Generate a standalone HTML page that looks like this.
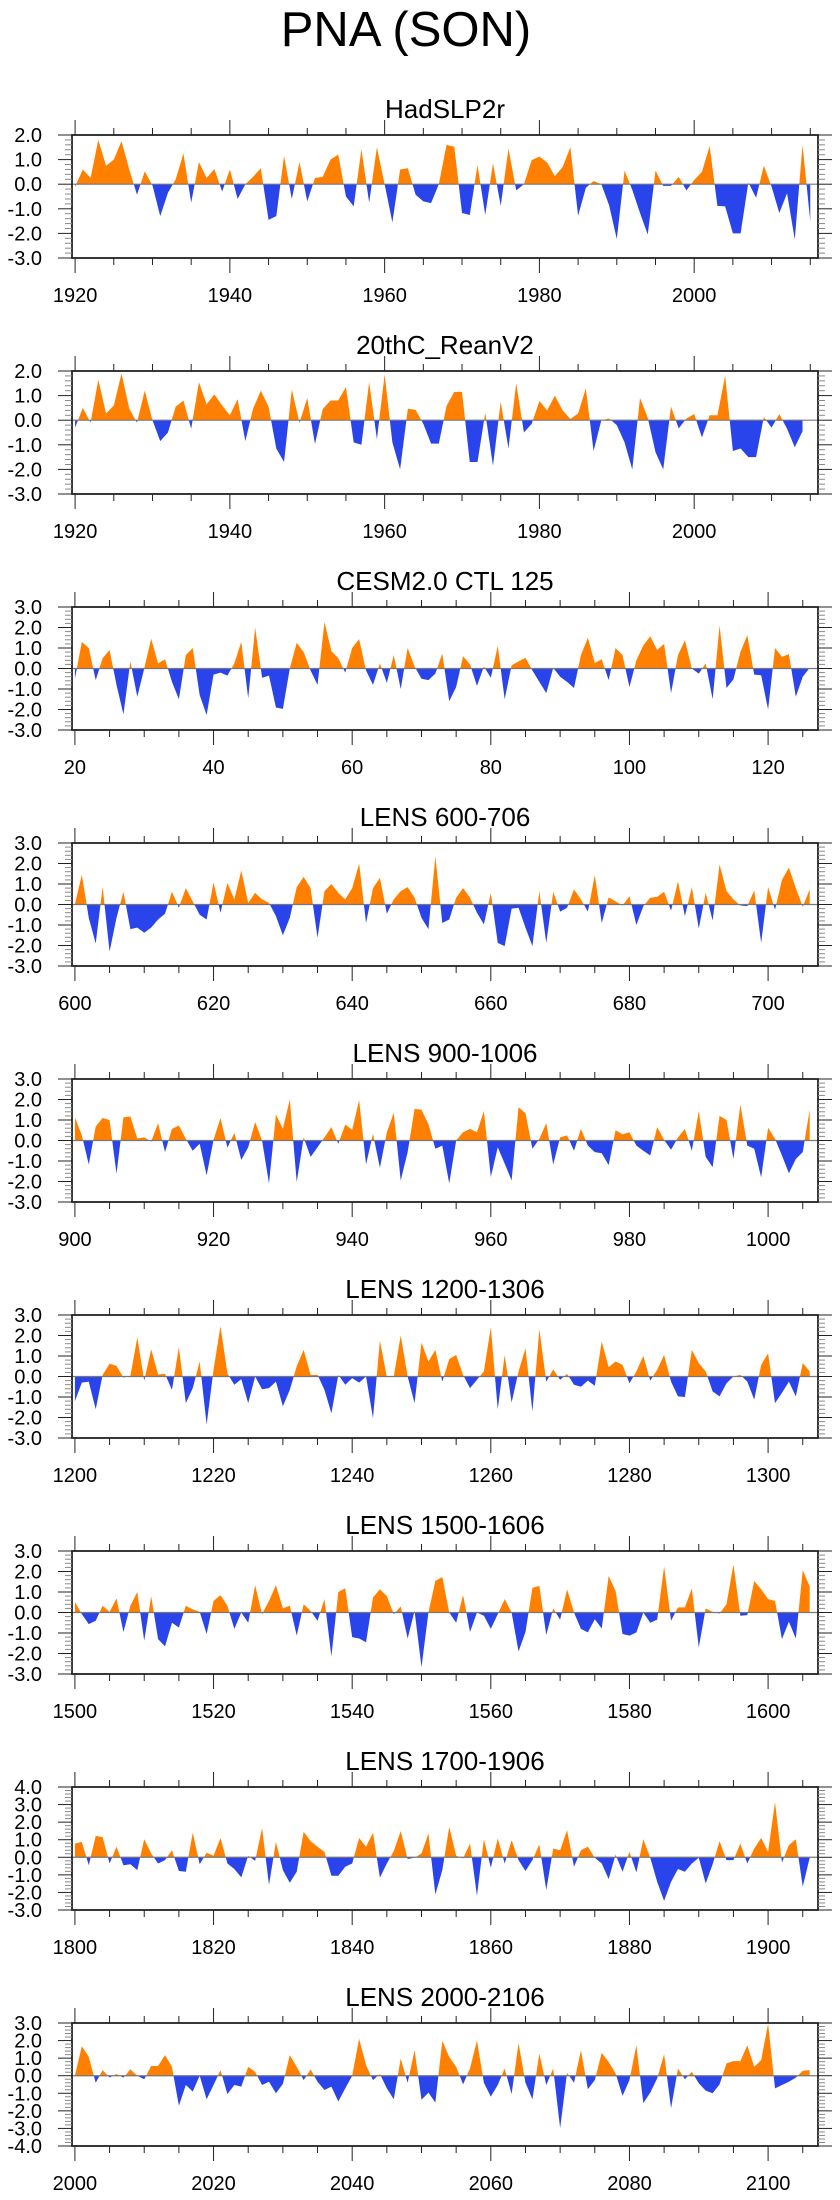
<!DOCTYPE html>
<html><head><meta charset="utf-8"><title>PNA (SON)</title>
<style>
html,body{margin:0;padding:0;background:#fff;}
svg{display:block;font-family:"Liberation Sans",Arial,sans-serif;}
</style></head>
<body>
<svg id="chart" width="840" height="2200" viewBox="0 0 840 2200" xmlns="http://www.w3.org/2000/svg">
<text x="406" y="46" font-size="49" text-anchor="middle" fill="#000">PNA (SON)</text>
</svg>
<script>
// ---- data arrays ----
const panelTitles = ["HadSLP2r","20thC_ReanV2","CESM2.0 CTL 125","LENS 600-706","LENS 900-1006","LENS 1200-1306","LENS 1500-1606","LENS 1700-1906","LENS 2000-2106"];
const startYears = [1920,1920,20,600,900,1200,1500,1800,2000];
const xTickLabels = [
 [1920,1940,1960,1980,2000],[1920,1940,1960,1980,2000],[20,40,60,80,100,120],
 [600,620,640,660,680,700],[900,920,940,960,980,1000],[1200,1220,1240,1260,1280,1300],
 [1500,1520,1540,1560,1580,1600],[1800,1820,1840,1860,1880,1900],[2000,2020,2040,2060,2080,2100]];
const yMins = [-3,-3,-3,-3,-3,-3,-3,-3,-4];
const yMaxs = [2,2,3,3,3,3,3,4,3];
const xMins = [1919.6,1919.6,19.58,599.58,899.58,1199.58,1499.58,1799.58,1999.58];
const xMaxs = [2016.0,2016.0,127.2,707.2,1007.2,1307.2,1607.2,1907.2,2107.2];

const hadValues = [-0.1,0.6,0.25,1.8,0.75,1.0,1.75,0.6,-0.43,0.52,-0.05,-1.3,-0.35,0.2,1.25,-0.75,0.9,0.25,0.62,-0.3,0.6,-0.6,0,0.3,0.65,-1.45,-1.3,1.15,-0.6,0.9,-0.7,0.25,0.3,1.0,1.2,-0.5,-0.9,1.42,-0.75,1.5,0,-1.55,0.6,0.65,-0.43,-0.7,-0.77,0,1.6,1.52,-1.17,-1.25,0.78,-1.25,0.85,-0.88,1.45,-0.25,0,0.98,1.12,0.88,0.33,0.7,1.5,-1.28,-0.15,0.13,0,-0.85,-2.23,0.55,-0.23,-1.17,-2.05,0.55,-0.07,-0.07,0.3,-0.25,0.17,0.5,1.55,-0.88,-0.9,-2.0,-2.0,0.07,-0.55,0.75,-0.1,-1.17,-0.37,-2.25,1.6,-1.5];
const reanValues = [-0.3,0.5,-0.1,1.65,0.27,0.6,1.9,0.47,-0.1,1.2,0,-0.85,-0.5,0.55,0.8,-0.35,1.55,0.65,1.05,0.6,0.2,0.85,-0.85,0.47,1.2,0.55,-1.15,-1.7,1.25,-0.1,0.9,-0.97,0.45,0.8,0.8,1.35,-0.9,-1.0,1.55,-0.77,1.85,-0.9,-2.0,0.47,0.42,-0.15,-0.95,-0.95,0.58,1.15,1.15,-1.7,-1.7,0.3,-1.85,0.75,-1.15,1.5,-0.5,-0.15,0.78,0.4,1.0,0.4,0.05,0.27,1.3,-1.25,0,0.07,-0.2,-0.9,-2.0,0.9,0.1,-1.3,-2.0,0.55,-0.33,0.07,0.25,-0.7,0.2,0.2,1.8,-1.25,-1.15,-1.5,-1.5,0.13,-0.3,0.25,-0.35,-1.1,-0.45];
const cesmValues = [-0.5,1.3,1.0,-0.57,0.5,0.9,-0.8,-2.24,0.35,-1.38,0,1.45,0.25,0.45,-0.65,-1.5,0.65,1.0,-1.3,-2.27,-0.3,-0.2,-0.35,0.25,1.3,-1.45,2.0,-0.45,-0.35,-1.9,-1.97,0,1.25,0.8,-0.1,-0.8,2.27,0.85,0.5,-0.2,1.0,1.43,-0.1,-0.8,0.25,-0.7,0.65,-1.0,1.0,0.1,-0.5,-0.57,-0.25,0.73,-1.6,-0.9,0.6,0.2,-0.85,0.1,-0.45,1.1,-1.5,0.15,0.35,0.52,-0.1,-0.65,-1.2,0.03,-0.4,-0.65,-0.95,0.65,1.5,0.27,0.45,-0.57,1.0,0.65,-0.9,0.4,1.13,1.57,0.9,1.2,-1.2,0.65,1.38,0,-0.25,0.25,-1.5,2.1,-0.95,-0.53,0.8,1.62,-0.3,-0.33,-2.0,1.0,0.57,0.7,-1.38,-0.4,0.03];
const lens600Values = [0,1.45,-0.65,-1.9,0.85,-2.3,-0.65,0.62,-1.2,-1.13,-1.38,-1.13,-0.73,-0.45,0.62,-0.15,0.8,0.15,-0.5,-0.73,1.08,-0.4,1.05,0.25,1.65,0.08,0.57,0.25,0.08,-0.57,-1.5,-0.65,0.85,1.35,0.8,-1.62,0.65,1.0,0.57,0.25,0.8,2.0,-0.9,0.8,1.3,-0.45,0.25,0.65,0.85,0.33,-0.65,-1.2,2.35,-0.9,-0.73,0.33,0.8,0.33,-0.4,-0.97,0.57,-1.87,-2.03,-0.2,-0.16,-1.13,-2.03,0.65,-1.87,0.62,-0.35,-0.16,0.73,0.25,-0.35,1.43,-0.9,0.35,0.15,-0.05,0.4,-1.0,-0.08,0.33,0.37,0.62,-0.3,1.13,-0.57,0.85,-1.17,0.57,-0.78,1.95,0.65,0.25,-0.05,-0.08,0.68,-1.87,0.85,-0.25,1.2,1.8,0.8,-0.1,0.73];
const lens900Values = [1.13,0.25,-1.17,0.68,1.1,1.0,-1.62,1.13,1.17,0.1,0.15,-0.05,0.85,-0.57,0.57,0.73,0.08,-0.5,-0.16,-1.7,0.03,1.1,-0.35,0.37,-0.95,-0.33,0.9,0,-2.1,1.27,0.57,2.0,-2.03,0.15,-0.8,-0.33,0.15,0.65,-0.16,0.78,0.52,1.97,-1.17,0.33,-1.33,0.4,1.35,-1.95,-0.57,1.54,1.5,0.8,-0.4,-0.25,-2.1,0,0.4,0.57,0.4,1.43,-1.78,-0.33,-1.13,-1.95,1.62,1.33,-0.4,0.08,0.85,-1.17,0.15,0.25,-0.5,0.57,-0.25,-0.57,-0.62,-1.2,0.5,0.3,0.4,-0.25,-0.5,-0.73,0.65,0.03,-0.45,0.15,0.57,-0.5,1.43,-0.8,-1.3,1.2,1.0,-0.9,1.75,-0.25,-0.4,-1.8,0.62,0.08,-0.73,-1.6,-0.9,-0.57,1.5];
const lens1200Values = [-1.2,-0.3,-0.25,-1.6,0.08,0.62,0.52,-0.05,0.03,1.9,-0.2,1.33,0.1,0.13,-0.65,1.43,-1.3,-0.57,0.73,-2.35,0.33,2.46,0.15,-0.4,-0.13,-1.3,0,-0.62,-0.57,-0.25,-1.45,-0.65,0.5,1.3,0.08,0.08,-0.65,-1.8,0.08,-0.4,-0.08,-0.3,0,-2.03,1.75,-0.03,0,2.0,0,-1.3,1.65,0.73,1.3,-0.25,0.85,1.05,0.08,-0.57,-0.16,0.25,2.4,-1.6,1.05,-1.27,0.25,1.38,-1.7,2.3,-0.25,0.35,-0.16,0.13,-0.4,-0.5,-0.2,-0.45,1.7,0.45,0.73,0.57,-0.33,0.25,1.0,-0.2,0.33,1.05,-0.25,-0.97,-1.0,1.3,0.65,0.25,-0.73,-0.97,-0.33,0,0.08,-0.25,-1.13,0.57,1.13,-1.3,-0.8,-0.25,-0.97,0.65,0.25];
const lens1500Values = [0.52,-0.08,-0.57,-0.4,0.33,0.03,0.68,-0.95,0.33,1.0,-1.38,0.8,-1.3,-1.65,-0.5,-0.73,0.33,0.15,0.03,-1.05,0.57,0.85,0.33,-0.8,0,-0.5,1.33,-0.08,0.57,1.33,0.2,0.33,-1.13,0.4,0.08,-0.4,0.65,-2.14,1.0,1.18,-1.2,-1.27,-1.45,0.73,1.13,0.8,-0.08,0.3,-1.27,0.08,-2.67,0,1.54,1.73,0,-0.5,0.85,-0.95,0,-0.16,-0.8,-0.08,0.65,0,-1.9,-0.95,1.2,1.3,-1.1,0.2,-0.35,1.13,0,-0.8,-0.97,-0.33,-0.78,1.78,1.05,-1.05,-1.13,-0.97,0,-0.5,-0.35,2.24,-0.4,0.25,0.25,1.17,-1.7,0.2,0.03,-0.05,0.4,2.35,-0.16,-0.13,1.54,1.13,0.65,0.57,-1.3,-0.45,-1.27,2.07,1.27];
const lens1800Values = [0.78,0.88,-0.45,1.22,1.15,-0.35,0.6,-0.45,-0.4,-0.73,1.03,0.22,-0.35,-0.16,0.4,-0.78,-0.82,1.4,-0.4,0.26,0.09,1.1,-0.35,-0.67,-1.14,0.09,-0.2,1.67,-1.58,0.88,-0.73,-1.45,-0.82,1.45,0.92,0.6,0.31,-1.05,-1.05,-0.54,-0.35,1.1,0.6,1.4,-1.16,-0.35,0.35,1.49,-0.1,-0.03,0.22,1.35,-2.12,-0.73,1.73,0.09,-0.06,0.78,-2.19,1.03,-0.59,1.07,-0.35,0.97,-0.16,-0.78,-0.16,0.73,-1.86,0.5,0.4,1.54,-0.54,0.4,0.6,-0.03,-0.35,-1.24,0.16,-0.82,0.31,-0.86,1.03,-0.03,-1.4,-2.48,-1.4,-0.67,-0.82,-0.35,-0.03,-1.49,-0.4,0.92,-0.16,-0.16,0.78,-0.35,0.5,1.1,0.31,3.15,-0.3,0.69,1.03,-1.67,-0.03];
const lens2000Values = [0,1.68,1.07,-0.4,0.32,-0.1,0.1,-0.11,0.36,0,-0.2,0.55,0.55,1.17,0.5,-1.71,-0.53,-0.9,0,-1.34,-0.53,0.32,-1.05,-0.53,-0.62,0.5,0.22,-0.53,-0.34,-1.0,-0.47,1.17,0.5,-0.25,0.36,-0.34,-0.81,-0.62,-1.47,-0.72,0,2.1,0.6,-0.25,0.1,-0.72,-1.34,0.98,-0.4,1.45,-1.37,-0.96,-1.53,1.98,1.07,0.5,-0.49,0.41,2.0,-0.4,-1.19,-0.53,0.41,-1.05,1.86,-0.4,-1.34,1.26,-0.53,0.41,-2.98,0.17,-0.4,1.45,-0.77,-0.25,1.3,0.79,0.13,-1.15,-0.25,1.73,-1.56,-0.96,-0.15,1.22,-1.85,0.41,-0.2,0.22,-0.43,-0.85,-1.0,-0.49,0.7,0.83,0.83,1.73,0.5,0.89,2.96,-0.72,-0.53,-0.34,-0.11,0.28,0.32];
const seriesValues = [hadValues,reanValues,cesmValues,lens600Values,lens900Values,lens1200Values,lens1500Values,lens1800Values,lens2000Values];

// ---- drawing ----
const NS = "http://www.w3.org/2000/svg";
const svg = document.getElementById("chart");
const L = 72, R = 818, H = 123;
function mk(tag, attrs, parent){
  const e = document.createElementNS(NS, tag);
  for (const k in attrs) e.setAttribute(k, attrs[k]);
  (parent||svg).appendChild(e);
  return e;
}
const defs = mk("defs", {});
for (let k = 0; k < seriesValues.length; k++){
  const top = 135 + 236*k, bot = top + H;
  const xmin = xMins[k], xmax = xMaxs[k], ymin = yMins[k], ymax = yMaxs[k];
  const sx = v => L + (v - xmin)/(xmax - xmin)*(R - L);
  const sy = v => top + (ymax - v)/(ymax - ymin)*H;
  const g = mk("g", {});
  
  

  const title = mk("text", {x:(L+R)/2, y:top-17, "font-size":26, "text-anchor":"middle", fill:"#000"}, g);
  
  
  title.textContent = panelTitles[k];

  const vals = seriesValues[k], s0 = startYears[k];
  let d = "M" + sx(s0).toFixed(2) + "," + sy(0).toFixed(2);
  vals.forEach((v,i) => { d += " L" + sx(s0+i).toFixed(2) + "," + sy(v).toFixed(2); });
  d += " L" + sx(s0+vals.length-1).toFixed(2) + "," + sy(0).toFixed(2) + " Z";
  const cpA = mk("clipPath", {id:"ca"+k}, defs);
  mk("rect", {x:L, y:top, width:R-L, height:sy(0)-top}, cpA);
  const cpB = mk("clipPath", {id:"cb"+k}, defs);
  mk("rect", {x:L, y:sy(0), width:R-L, height:bot-sy(0)}, cpB);
  const pos = mk("path", {d:d, fill:"#ff8000", "clip-path":"url(#ca"+k+")"}, g);
  
  
  const neg = mk("path", {d:d, fill:"#2a44eb", "clip-path":"url(#cb"+k+")"}, g);
  
  

  const zl = mk("line", {x1:L, x2:R, y1:sy(0), y2:sy(0), stroke:"#777", "stroke-width":1.2}, g);
  
  

  const box = mk("rect", {x:L, y:top, width:R-L, height:H, fill:"none", stroke:"#222", "stroke-width":1.8}, g);
  
  

  const nMinor = Math.round((ymax - ymin)/0.2);
  for (let j = 0; j <= nMinor; j++){
    const v = ymin + j*0.2, y = sy(v);
    const major = Math.abs(v - Math.round(v)) < 1e-6;
    const len = major ? 14 : 7;
    mk("line", {x1:L-len, x2:L, y1:y, y2:y, stroke: major ? "#222" : "#888", "stroke-width":1}, g);
    mk("line", {x1:R, x2:R+len, y1:y, y2:y, stroke: major ? "#222" : "#888", "stroke-width":1}, g);
    if (major){
      const t = mk("text", {x:42, y:y+7, "font-size":20, "text-anchor":"end", fill:"#000"}, g);
      
      
      t.textContent = v.toFixed(1);
    }
  }
  const labs = xTickLabels[k];
  for (let yr = labs[0]; yr <= xmax; yr += 5){
    const x = sx(yr);
    const major = labs.indexOf(yr) >= 0;
    const len = major ? 15 : 7;
    mk("line", {x1:x, x2:x, y1:top-len, y2:top, stroke:"#222", "stroke-width":1}, g);
    mk("line", {x1:x, x2:x, y1:bot, y2:bot+len, stroke:"#222", "stroke-width":1}, g);
  }
  labs.forEach(yr => {
    const t = mk("text", {x:sx(yr), y:bot+44, "font-size":20, "text-anchor":"middle", fill:"#000"}, g);
    
    
    t.textContent = yr;
  });
}
</script>
</body></html>
